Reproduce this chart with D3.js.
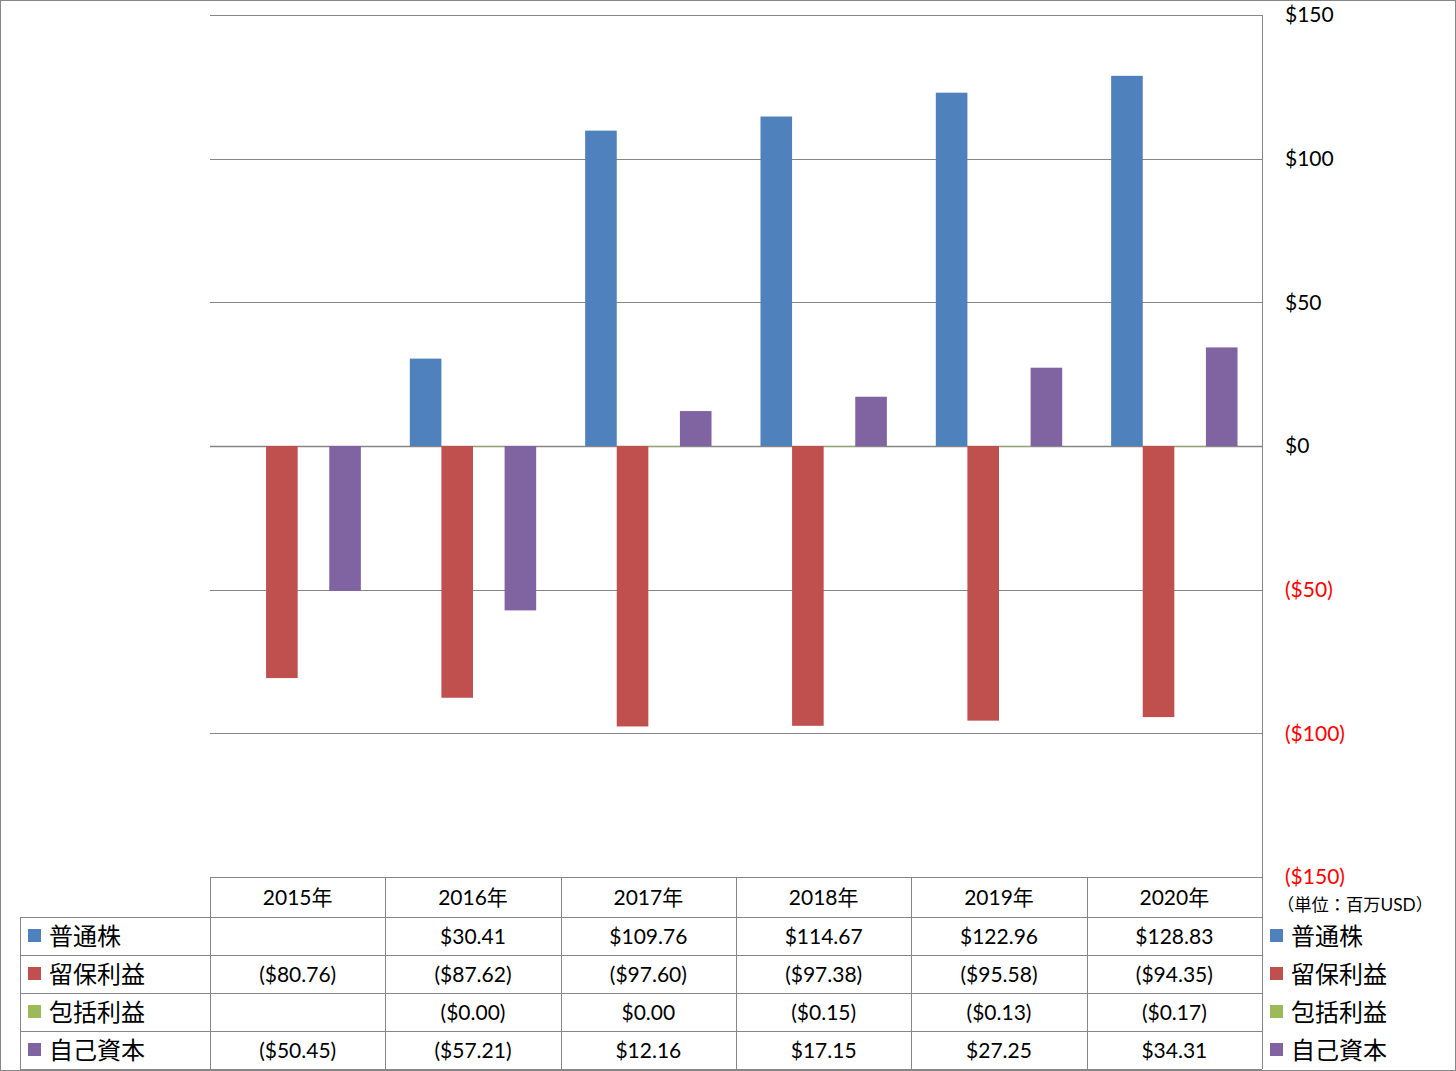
<!DOCTYPE html>
<html>
<head>
<meta charset="utf-8">
<script src="https://cdn.jsdelivr.net/npm/d3@7"></script>
<style>
  html, body { margin: 0; padding: 0; background: #fff; }
  svg { display: block; }
  text { font-family: Lato, "Noto Sans CJK JP", sans-serif; }
</style>
</head>
<body>
<svg id="chart" width="1456" height="1071"></svg>
<script>
const years = ["2015年", "2016年", "2017年", "2018年", "2019年", "2020年"];
const seriesNames = ["普通株", "留保利益", "包括利益", "自己資本"];
const seriesColors = ["#4F81BD", "#C0504D", "#9BBB59", "#8064A2"];
const commonStock = [null, 30.41, 109.76, 114.67, 122.96, 128.83];
const retainedEarnings = [-80.76, -87.62, -97.60, -97.38, -95.58, -94.35];
const comprehensiveIncome = [null, -0.004, 0.004, -0.15, -0.13, -0.17];
const equity = [-50.45, -57.21, 12.16, 17.15, 27.25, 34.31];
const yTicks = [150, 100, 50, 0, -50, -100, -150];
const unitLabel = "（単位：百万USD）";

const seriesValues = [commonStock, retainedEarnings, comprehensiveIncome, equity];

const svg = d3.select("#chart");
const grey = "#868686";

const plot = { left: 210, right: 1262, top: 15, bottom: 877 };
const rowH = 38;
const headerH = 40;
const legendLeft = 20;

const x0 = d3.scaleBand().domain(years).range([plot.left, plot.right]).paddingInner(0).paddingOuter(0);
const x1 = d3.scaleBand().domain(seriesNames).range([0, x0.bandwidth()]).paddingInner(0).paddingOuter(0.775);
const y = d3.scaleLinear().domain([-150, 150]).range([plot.bottom, plot.top]);

// outer border
svg.append("rect").attr("x", 0.5).attr("y", 0.5).attr("width", 1455).attr("height", 1070)
  .attr("fill", "none").attr("stroke", grey).attr("stroke-width", 1);

// gridlines
svg.append("g").selectAll("line").data(yTicks).join("line")
  .attr("x1", plot.left).attr("x2", plot.right)
  .attr("y1", d => Math.round(y(d)) + 0.5).attr("y2", d => Math.round(y(d)) + 0.5)
  .attr("stroke", grey).attr("stroke-width", d => d === 0 ? 1.5 : 1);

// bars
const fmtAxis = d => d < 0 ? `($${Math.abs(d)})` : `$${d}`;
const barsG = svg.append("g");
seriesNames.forEach((s, si) => {
  const data = years.map((yr, i) => ({ yr, v: seriesValues[si][i] })).filter(d => d.v !== null);
  barsG.append("g").selectAll("rect").data(data).join("rect")
    .attr("x", d => x0(d.yr) + x1(s))
    .attr("width", x1.bandwidth())
    .attr("y", d => y(Math.max(0, d.v)))
    .attr("height", d => Math.max(Math.abs(y(d.v) - y(0)), 0.6))
    .attr("fill", seriesColors[si]);
});

// right axis line
svg.append("line").attr("x1", plot.right + 0.5).attr("x2", plot.right + 0.5)
  .attr("y1", plot.top).attr("y2", plot.bottom + headerH + rowH * 4)
  .attr("stroke", grey);

// axis labels
const axis = d3.axisRight(y).tickValues(yTicks).tickFormat(fmtAxis).tickSize(0).tickPadding(0);
const axG = svg.append("g").attr("transform", `translate(${plot.right + 23},0)`).call(axis);
axG.select(".domain").remove();
axG.selectAll("text")
  .attr("font-size", 21).attr("font-family", "Lato, 'Noto Sans CJK JP', sans-serif")
  .attr("text-anchor", "start")
  .style("fill", d => d < 0 ? "#FF0000" : "#000");

// unit label
svg.append("text").attr("x", 1277).attr("y", 905).attr("dy", "0.35em")
  .attr("font-size", 17).attr("font-family", "'Noto Sans CJK JP', sans-serif")
  .attr("textLength", 156).attr("lengthAdjust", "spacingAndGlyphs")
  .style("fill", "#000")
  .text(unitLabel);

// data table
const tableTop = plot.bottom;
const tbl = svg.append("g");
tbl.append("line").attr("x1", plot.left).attr("x2", plot.right)
  .attr("y1", tableTop + 0.5).attr("y2", tableTop + 0.5).attr("stroke", grey);
for (let r = 0; r <= 4; r++) {
  const yy = tableTop + headerH + r * rowH + 0.5;
  tbl.append("line").attr("x1", legendLeft).attr("x2", plot.right)
    .attr("y1", yy).attr("y2", yy).attr("stroke", grey);
}
const vx = years.map(d => x0(d)).concat([plot.right]);
vx.forEach(xx => {
  tbl.append("line").attr("x1", Math.round(xx) + 0.5).attr("x2", Math.round(xx) + 0.5)
    .attr("y1", tableTop).attr("y2", tableTop + headerH + rowH * 4).attr("stroke", grey);
});
tbl.append("line").attr("x1", legendLeft + 0.5).attr("x2", legendLeft + 0.5)
  .attr("y1", tableTop + headerH).attr("y2", tableTop + headerH + rowH * 4).attr("stroke", grey);

tbl.selectAll("text.yr").data(years).join("text").attr("class", "yr")
  .attr("x", d => x0(d) + x0.bandwidth() / 2)
  .attr("y", tableTop + headerH / 2).attr("dy", "0.36em")
  .attr("text-anchor", "middle").attr("font-size", 21)
  .style("fill", "#000")
  .text(d => d);

const fmtCell = v => {
  if (v === null) return "";
  const s = Math.abs(v).toFixed(2);
  return v < 0 ? `($${s})` : `$${s}`;
};

seriesNames.forEach((s, si) => {
  const cy = tableTop + headerH + si * rowH + rowH / 2;
  tbl.append("rect").attr("x", 28).attr("y", cy - 7).attr("width", 13).attr("height", 13)
    .attr("fill", seriesColors[si]);
  tbl.append("text").attr("x", 49).attr("y", cy).attr("dy", "0.36em")
    .attr("font-size", 24).attr("font-family", "'Noto Sans CJK JP', sans-serif")
    .style("fill", "#000").text(s);
  tbl.append("rect").attr("x", 1270).attr("y", cy - 7).attr("width", 13).attr("height", 13)
    .attr("fill", seriesColors[si]);
  tbl.append("text").attr("x", 1291).attr("y", cy).attr("dy", "0.36em")
    .attr("font-size", 24).attr("font-family", "'Noto Sans CJK JP', sans-serif")
    .style("fill", "#000").text(s);
  years.forEach((yr, i) => {
    tbl.append("text").attr("x", x0(yr) + x0.bandwidth() / 2).attr("y", cy).attr("dy", "0.36em")
      .attr("text-anchor", "middle").attr("font-size", 21)
      .style("fill", "#000")
      .text(fmtCell(seriesValues[si][i]));
  });
});
</script>
</body>
</html>
